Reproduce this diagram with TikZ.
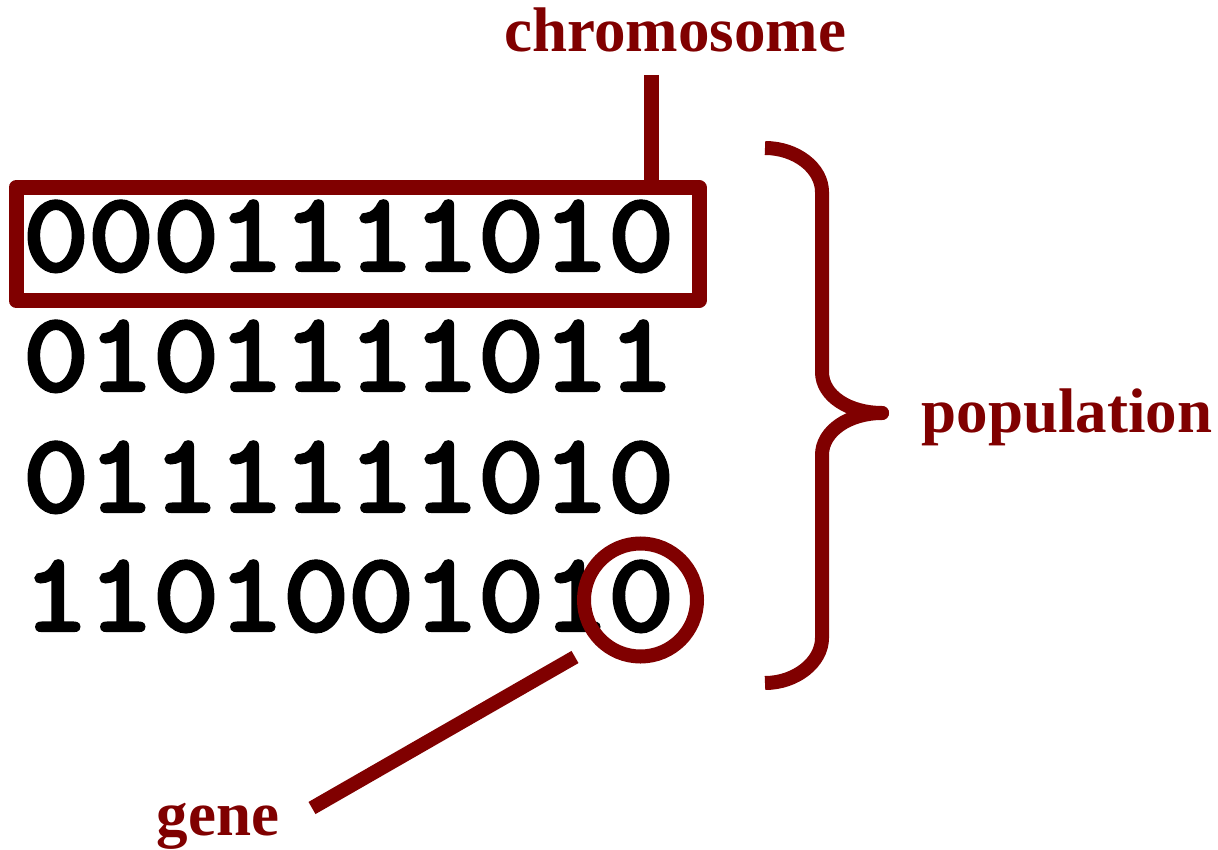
\documentclass[tikz,border=0pt]{standalone}
\usepackage{fontspec}
\setmainfont{Liberation Serif}
\newfontfamily\digitfont[FakeBold=4,FakeStretch=1.15]{Latin Modern Mono}
\definecolor{maroonred}{RGB}{128,0,0}
\newcommand\dg[1]{\makebox[65pt]{#1}}
\newcommand\bitrow[1]{\bitrowaux#1\relax}
\def\bitrowaux#1{\ifx#1\relax\else\dg{#1}\expandafter\bitrowaux\fi}
\begin{document}
\begin{tikzpicture}[x=1pt,y=-1pt,
  digits/.style={anchor=base,inner sep=0pt,text=black,font=\digitfont\fontsize{110}{112}\selectfont},
  lbl/.style={anchor=base,inner sep=0pt,text=maroonred,font=\bfseries\fontsize{63}{66}\selectfont},
  outline/.style={draw=maroonred,line width=15pt},
  conn/.style={draw=maroonred,line width=14pt,line cap=butt}]
\useasboundingbox (0,0) rectangle (1218,850);
% rows
\node[digits] (r1) at (348.5,270) {\bitrow{0001111010}};
\node[digits] (r2) at (348.5,390) {\bitrow{0101111011}};
\node[digits] (r3) at (348.5,511) {\bitrow{0111111010}};
\node[digits] (r4) at (348.5,630) {\bitrow{1101001010}};
% chromosome box
\node[outline,line join=round,rectangle,inner sep=0pt,minimum width=683pt,minimum height=113pt] (box) at (357.5,244) {};
\node[lbl] (chrom) at (675.5,52) {chromosome};
\coordinate (stemtop) at (651,75);
\draw[conn,line width=15pt] (stemtop) -- (stemtop |- box.north);
% gene circle
\node[outline,line width=14pt,circle,inner sep=0pt,minimum size=113pt] (gc) at (640.5,600) {};
\node[lbl] (gene) at (218,835) {gene};
\coordinate (g1) at (575,657);
\coordinate (g2) at (312,808);
\draw[conn] (g1) -- (g2);
% population brace
\node[lbl] (pop) at (1067,432) {population};
\coordinate (tip) at (882,413);
\draw[conn,line join=round] (765,148) .. controls (796,148) and (822,168) .. (822,192)
  -- (822,372) .. controls (822,396) and (849,413) .. (tip)
  .. controls (849,413) and (822,431) .. (822,455)
  -- (822,638) .. controls (822,662) and (796,683) .. (765,683);
\fill[maroonred] (tip) circle (7pt);
\end{tikzpicture}
\end{document}
